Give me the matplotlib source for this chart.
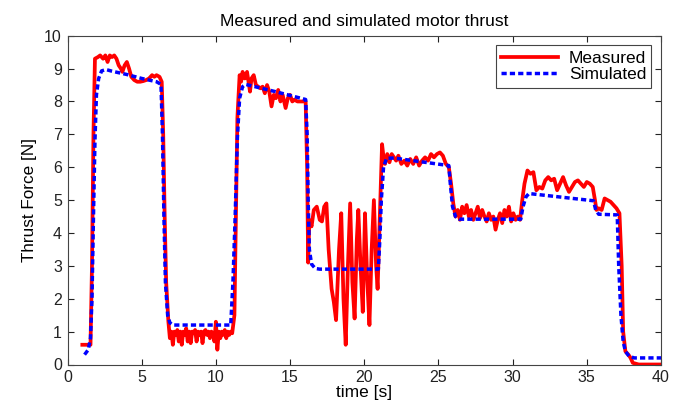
import matplotlib
matplotlib.use("Agg")
import matplotlib.pyplot as plt

plt.rcParams['font.family'] = ['Liberation Sans', 'DejaVu Sans']

# Measured thrust (time [s], force [N])
meas_t = [1.0, 1.55, 1.65, 1.75, 1.85, 2.05, 2.2, 2.4, 2.55, 2.7, 2.85, 3.0, 3.15, 3.3, 3.45,
          3.6, 3.7, 3.85, 4.0, 4.15, 4.3, 4.5, 4.7, 4.9, 5.1, 5.3, 5.5, 5.7, 5.85, 6.0,
          6.2, 6.35, 6.45, 6.55, 6.65, 6.8, 6.9, 7.0, 7.1, 7.2, 7.3, 7.4, 7.5, 7.6, 7.7,
          7.8, 7.9, 8.0, 8.1, 8.2, 8.3, 8.4, 8.5, 8.6, 8.7, 8.8, 8.9, 9.0, 9.1, 9.2,
          9.3, 9.4, 9.5, 9.6, 9.7, 9.8, 9.9, 10.0, 10.1, 10.2, 10.3, 10.4, 10.5, 10.6, 10.7,
          10.8, 10.9, 11.0, 11.1, 11.25, 11.35, 11.45, 11.6, 11.7, 11.8, 11.95, 12.1, 12.2, 12.3, 12.4,
          12.55, 12.7, 12.85, 13.0, 13.15, 13.3, 13.45, 13.6, 13.75, 13.9, 14.05, 14.2, 14.35, 14.5, 14.7,
          14.85, 15.0, 15.15, 15.3, 15.5, 15.8, 16.05, 16.15, 16.22, 16.3, 16.45, 16.6, 16.8, 17.0, 17.15,
          17.3, 17.45, 17.6, 17.8, 17.95, 18.1, 18.3, 18.45, 18.6, 18.75, 18.9, 19.05, 19.2, 19.35, 19.5,
          19.6, 19.75, 19.9, 20.05, 20.2, 20.35, 20.5, 20.65, 20.8, 20.9, 21.05, 21.2, 21.3, 21.4, 21.55,
          21.7, 21.85, 22.0, 22.15, 22.3, 22.5, 22.7, 22.9, 23.1, 23.3, 23.5, 23.7, 23.9, 24.1, 24.3,
          24.5, 24.7, 24.9, 25.1, 25.3, 25.5, 25.7, 25.85, 26.0, 26.15, 26.3, 26.45, 26.6, 26.75, 26.9,
          27.05, 27.2, 27.35, 27.5, 27.65, 27.8, 27.95, 28.1, 28.25, 28.4, 28.55, 28.7, 28.85, 29.0, 29.15,
          29.3, 29.45, 29.6, 29.75, 29.9, 30.05, 30.2, 30.35, 30.5, 30.65, 30.8, 31.0, 31.2, 31.4, 31.6,
          31.8, 32.0, 32.2, 32.4, 32.6, 32.8, 33.0, 33.2, 33.4, 33.6, 33.8, 34.0, 34.2, 34.4, 34.6,
          34.8, 35.0, 35.2, 35.4, 35.55, 35.65, 35.8, 36.0, 36.2, 36.4, 36.6, 36.8, 37.0, 37.2, 37.35,
          37.45, 37.6, 37.8, 37.95, 38.1, 38.5, 40.0]
meas_v = [0.6, 0.6, 3.0, 7.0, 9.3, 9.35, 9.4, 9.3, 9.4, 9.2, 9.4, 9.35, 9.4, 9.3, 9.1,
          9.0, 8.9, 9.1, 9.2, 9.0, 8.75, 8.65, 8.6, 8.6, 8.62, 8.65, 8.7, 8.8, 8.75, 8.8,
          8.75, 8.6, 7.0, 4.5, 2.5, 1.3, 0.8, 1.0, 0.6, 1.0, 0.9, 1.05, 0.7, 1.0, 0.6,
          1.0, 0.9, 1.1, 0.7, 1.0, 0.65, 1.0, 0.95, 1.05, 0.7, 1.0, 0.9, 1.0, 0.65, 1.0,
          1.05, 0.9, 1.0, 0.8, 1.0, 0.95, 0.7, 1.3, 0.45, 1.0, 0.8, 1.0, 0.9, 1.05, 0.8,
          1.0, 0.9, 1.0, 0.95, 1.5, 4.5, 7.5, 8.8, 8.6, 8.9, 8.7, 8.9, 8.6, 8.3, 8.7,
          8.8, 8.5, 8.45, 8.4, 8.45, 8.25, 8.5, 8.3, 7.85, 8.2, 8.1, 8.35, 8.0, 8.2, 7.8,
          8.1, 8.2, 8.0, 8.05, 8.0, 8.0, 8.0, 6.0, 3.1, 4.4, 4.2, 4.7, 4.8, 4.4, 4.35,
          4.8, 4.9, 3.5, 2.3, 1.9, 1.35, 3.5, 4.6, 2.0, 0.6, 3.0, 4.9, 2.5, 1.4, 3.8,
          4.7, 3.0, 1.6, 4.6, 2.6, 1.2, 3.5, 5.0, 3.0, 2.3, 4.5, 6.7, 6.3, 6.1, 6.4,
          6.15, 6.4, 6.3, 6.2, 6.35, 6.1, 6.2, 6.05, 6.25, 6.1, 6.3, 6.05, 6.2, 6.3, 6.2,
          6.4, 6.3, 6.4, 6.45, 6.35, 6.1, 6.0, 5.5, 4.9, 4.5, 4.7, 4.4, 4.8, 4.6, 4.85,
          4.5, 4.7, 4.4, 4.6, 4.8, 4.45, 4.7, 4.5, 4.35, 4.6, 4.4, 4.5, 4.1, 4.4, 4.6,
          4.3, 4.7, 4.5, 4.8, 4.35, 4.6, 4.4, 4.5, 4.4, 5.0, 5.5, 5.9, 5.8, 5.85, 5.3,
          5.4, 5.35, 5.6, 5.7, 5.6, 5.65, 5.3, 5.5, 5.7, 5.45, 5.25, 5.4, 5.55, 5.6, 5.5,
          5.4, 5.55, 5.5, 5.4, 5.0, 4.7, 4.75, 4.7, 5.05, 5.0, 4.95, 4.85, 4.75, 4.6, 3.0,
          1.0, 0.4, 0.3, 0.2, 0.05, 0.0, 0.0]

# Simulated thrust (time [s], force [N])
sim_t = [1.15, 1.4, 1.55, 1.65, 1.75, 1.85, 1.95, 2.1, 2.3, 2.6, 3.0, 4.0, 5.0, 6.0, 6.3,
         6.4, 6.5, 6.6, 6.75, 6.9, 7.1, 11.0, 11.15, 11.3, 11.45, 11.6, 11.8, 12.0, 14.0, 16.05,
         16.15, 16.22, 16.3, 16.45, 16.7, 17.0, 20.95, 21.05, 21.15, 21.3, 21.5, 22.0, 25.7, 25.8, 25.95,
         26.15, 26.4, 30.55, 30.7, 30.9, 31.1, 35.45, 35.6, 35.8, 37.05, 37.15, 37.3, 37.45, 37.6, 37.85,
         38.2, 40.0]
sim_v = [0.3, 0.45, 0.8, 2.0, 4.5, 6.8, 8.2, 8.7, 8.93, 8.97, 8.92, 8.82, 8.7, 8.6, 8.52,
         7.0, 4.5, 2.5, 1.5, 1.27, 1.2, 1.2, 2.5, 4.5, 6.9, 8.1, 8.45, 8.52, 8.3, 8.06,
         7.0, 5.0, 3.5, 3.05, 2.92, 2.9, 2.9, 3.8, 5.0, 6.0, 6.27, 6.28, 6.05, 5.5, 4.8,
         4.5, 4.42, 4.42, 4.8, 5.1, 5.2, 4.98, 4.7, 4.57, 4.55, 3.0, 1.5, 0.7, 0.4, 0.25,
         0.2, 0.2]

x_ticks = [0, 5, 10, 15, 20, 25, 30, 35, 40]
y_ticks = [0, 1, 2, 3, 4, 5, 6, 7, 8, 9, 10]

fig = plt.figure(figsize=(6.82, 4.08), dpi=100)
ax = fig.add_axes([67.5 / 682, 1 - 364.5 / 408, (661 - 67.5) / 682, (364.5 - 35.7) / 408])

ax.plot(meas_t, meas_v, color='#ff0000', lw=2.7, label='Measured', solid_joinstyle='round')
ax.plot(sim_t, sim_v, color='#0000ff', lw=2.5, dashes=(1.5, 0.9), label='Simulated')

ax.set_xlim(0, 40)
ax.set_ylim(0, 10)
ax.set_xticks(x_ticks)
ax.set_yticks(y_ticks)
ax.tick_params(direction='in', top=True, right=True, length=4, width=0.8,
               labelsize=11.5, colors='#222222', pad=4)
for s in ax.spines.values():
    s.set_color('#444444')
    s.set_linewidth(0.8)

ax.set_title('Measured and simulated motor thrust', fontsize=12.5, pad=7)
ax.set_xlabel('time [s]', fontsize=12.5, labelpad=0)
ax.set_ylabel('Thrust Force [N]', fontsize=12.3, labelpad=5)

leg = ax.legend(loc='upper right', fontsize=12.5, fancybox=False, edgecolor='#444444',
                framealpha=1, handlelength=3.3, borderpad=0.3, labelspacing=0.1,
                handletextpad=0.6, borderaxespad=0.55)
leg.get_frame().set_linewidth(0.8)

fig.savefig('out.png', dpi=100)
